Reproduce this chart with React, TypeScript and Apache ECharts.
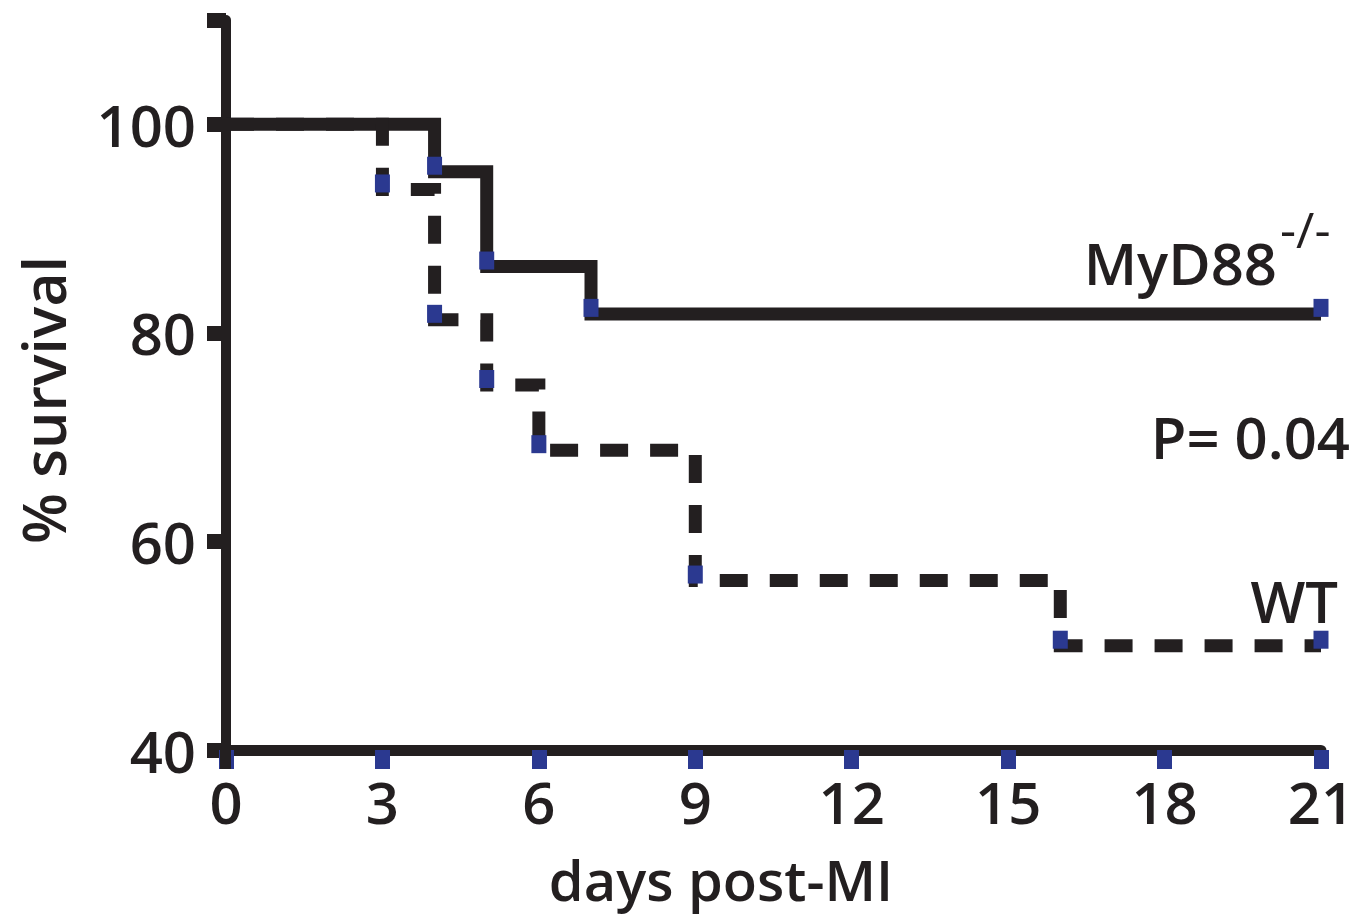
import React, { useEffect, useRef } from "react";
import * as echarts from "echarts";

const xTicks = [0, 3, 6, 9, 12, 15, 18, 21];
const yTickLabels = ["40", "60", "80", "100"];
const myd88Days = [0, 4, 5, 7, 21];
const myd88Survival = [100, 95.45, 86.36, 81.82, 81.82];
const wtDays = [0, 3, 4, 5, 6, 9, 16, 21];
const wtSurvival = [100, 93.75, 81.25, 75, 68.75, 56.25, 50, 50];
const seriesNames = ["MyD88", "WT"];
const pValueText = "P= 0.04";

const INK = "#231f20";
const BLUE = "#2b3990";
const FONT = "'Open Sans', 'Noto Sans', sans-serif";
const WEIGHT = 600;

function toData(days: number[], vals: number[]) {
  return days.map((d, i) =>
    i === 0 ? { value: [d, vals[i]], symbol: "none" } : { value: [d, vals[i]] }
  );
}

export default function App() {
  const ref = useRef<HTMLDivElement>(null);
  useEffect(() => {
    document.body.style.margin = "0";
    const chart = echarts.init(ref.current!, undefined, { renderer: "svg" });
    const option: any = {
      animation: false,
      backgroundColor: "#ffffff",
      grid: { left: 226, right: 47, top: 20, bottom: 168, containLabel: false },
      xAxis: {
        type: "value",
        min: xTicks[0],
        max: xTicks[xTicks.length - 1],
        interval: 3,
        splitLine: { show: false },
        axisLine: { lineStyle: { color: INK, width: 11 } },
        axisTick: { length: 19, lineStyle: { color: BLUE, width: 15 } },
        axisLabel: {
          margin: 22,
          color: INK,
          fontSize: 58,
          fontFamily: FONT,
          fontWeight: WEIGHT,
        },
      },
      yAxis: {
        type: "value",
        min: 40,
        max: 110,
        interval: 20,
        splitLine: { show: false },
        axisLine: { lineStyle: { color: INK, width: 10 } },
        axisTick: { length: 19, lineStyle: { color: INK, width: 15 } },
        axisLabel: {
          margin: 30,
          color: INK,
          fontSize: 58,
          fontFamily: FONT,
          fontWeight: WEIGHT,
          formatter: (v: number) => (yTickLabels.includes(String(v)) ? String(v) : ""),
        },
      },
      series: [
        {
          name: seriesNames[0],
          type: "line",
          step: "end",
          data: toData(myd88Days, myd88Survival),
          lineStyle: { color: INK, width: 13, join: "miter", cap: "butt" },
          symbol: "rect",
          symbolSize: [15, 18],
          symbolOffset: [0, -6],
          itemStyle: { color: BLUE },
          z: 3,
        },
        {
          name: seriesNames[1],
          type: "line",
          step: "end",
          data: toData(wtDays, wtSurvival),
          lineStyle: { color: INK, width: 13, type: [28, 22], join: "miter", cap: "butt" },
          symbol: "rect",
          symbolSize: [15, 18],
          symbolOffset: [0, -6],
          itemStyle: { color: BLUE },
          z: 4,
        },
      ],
    };
    chart.setOption(option);

    const origin = chart.convertToPixel({ gridIndex: 0 }, [0, 40]) as number[];
    const textBase = { fill: INK, fontFamily: FONT, fontWeight: WEIGHT };
    chart.setOption({
      graphic: [
        {
          type: "rect",
          z: 100,
          shape: { x: origin[0] - 6, y: origin[1], width: 11, height: 19 },
          style: { fill: INK },
        },
        {
          type: "text",
          x: 43,
          y: 400,
          rotation: Math.PI / 2,
          style: {
            ...textBase,
            text: "% survival",
            fontSize: 59,
            lineHeight: 59,
            textAlign: "center",
            textVerticalAlign: "middle",
          },
        },
        {
          type: "text",
          x: 721,
          y: 879,
          style: { ...textBase, text: "days post-MI", fontSize: 56, textAlign: "center", textVerticalAlign: "middle" },
        },
        {
          type: "text",
          x: 1277,
          y: 262,
          style: { ...textBase, text: seriesNames[0], fontSize: 58, textAlign: "right", textVerticalAlign: "middle" },
        },
        {
          type: "text",
          x: 1280,
          y: 229,
          style: { ...textBase, fontWeight: 400, text: "-/-", fontSize: 50, textAlign: "left", textVerticalAlign: "middle" },
        },
        {
          type: "text",
          x: 1350,
          y: 436,
          style: { ...textBase, text: pValueText, fontSize: 58, textAlign: "right", textVerticalAlign: "middle" },
        },
        {
          type: "text",
          x: 1338,
          y: 600,
          style: { ...textBase, text: seriesNames[1], fontSize: 58, textAlign: "right", textVerticalAlign: "middle" },
        },
      ],
    });
    return () => chart.dispose();
  }, []);
  return <div ref={ref} style={{ width: 1368, height: 918 }} />;
}
